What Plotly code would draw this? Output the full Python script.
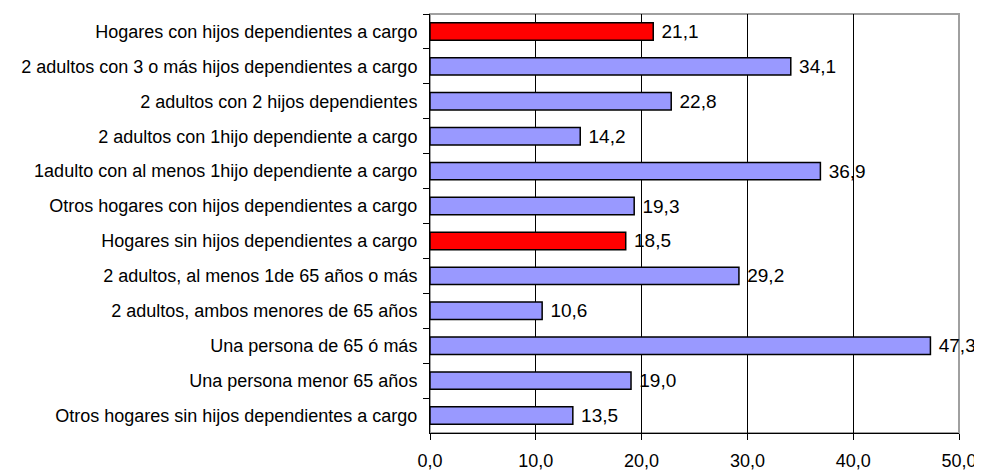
import plotly.graph_objects as go

categories = [
    "Hogares con hijos dependientes a cargo",
    "2 adultos con 3 o más hijos dependientes a cargo",
    "2 adultos con 2 hijos dependientes",
    "2 adultos con 1hijo dependiente a cargo",
    "1adulto con al menos 1hijo dependiente a cargo",
    "Otros hogares con hijos dependientes a cargo",
    "Hogares sin hijos dependientes a cargo",
    "2 adultos, al menos 1de 65 años o más",
    "2 adultos, ambos menores de 65 años",
    "Una persona de 65 ó más",
    "Una persona menor 65 años",
    "Otros hogares sin hijos dependientes a cargo",
]
values = [21.1, 34.1, 22.8, 14.2, 36.9, 19.3, 18.5, 29.2, 10.6, 47.3, 19.0, 13.5]
highlight = [True, False, False, False, False, False, True, False, False, False, False, False]
x_ticks = [0, 10, 20, 30, 40, 50]

colors = ["#FF0000" if h else "#9999FF" for h in highlight]

FONT = "Liberation Sans, Arial, sans-serif"

fig = go.Figure(go.Bar(
    x=values, y=categories, orientation="h",
    marker=dict(color=colors, line=dict(color="#000000", width=1.5)),
    text=values, texttemplate=" %{x:.1f}", textposition="outside",
    textfont=dict(family=FONT, size=19, color="#000000"),
    constraintext="none",
    cliponaxis=False,
))

fig.update_layout(
    width=974, height=466,
    margin=dict(l=422, r=23, t=6, b=41, autoexpand=False),
    paper_bgcolor="white", plot_bgcolor="white",
    separators=",.",
    bargap=0.5,
    showlegend=False,
    font=dict(family=FONT, size=16, color="#000000"),
    shapes=[dict(type="rect", xref="paper", yref="paper", x0=0, x1=1, y0=0, y1=1,
                 line=dict(color="#A0A0A0", width=2), layer="below")],
)
fig.update_xaxes(
    range=[0, 50], tickvals=x_ticks, tickformat=".1f",
    showgrid=True, gridcolor="#000000", gridwidth=1,
    showline=True, linecolor="#000000", linewidth=1,
    ticks="outside", ticklen=6, tickcolor="#000000",
    tickfont=dict(family=FONT, size=18), zeroline=False, automargin=False,
    ticklabelstandoff=5,
)
fig.update_yaxes(
    autorange="reversed", type="category",
    showline=True, linecolor="#000000", linewidth=1,
    ticks="outside", ticklen=6, tickcolor="#000000", tickson="boundaries",
    tickfont=dict(family=FONT, size=18), showgrid=False, automargin=False,
    ticklabelstandoff=8,
)

fig.write_html("out.html")
